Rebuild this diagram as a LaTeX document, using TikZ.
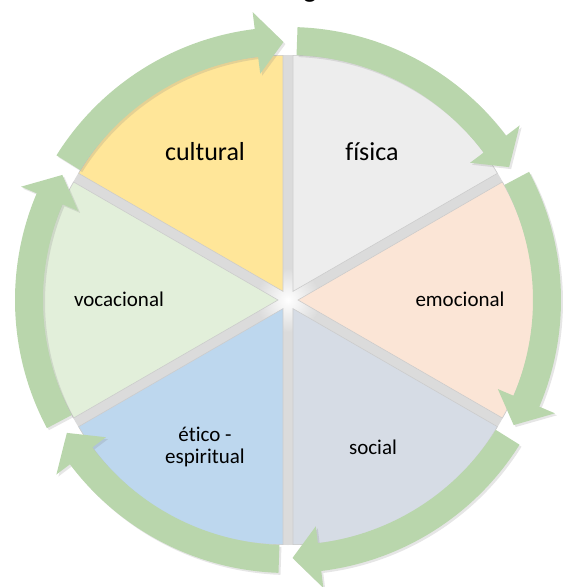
\documentclass[tikz,border=0pt]{standalone}
\usepackage{fontspec}
\setmainfont[Ligatures=NoCommon]{Carlito}
\usetikzlibrary{shadows}

\definecolor{culturalcol}{HTML}{FFE699}
\definecolor{fisicacol}{HTML}{EDEDED}
\definecolor{emocionalcol}{HTML}{FBE5D6}
\definecolor{socialcol}{HTML}{D6DCE5}
\definecolor{eticocol}{HTML}{BDD7EE}
\definecolor{vocacionalcol}{HTML}{E2EFDA}
\definecolor{arrowgreen}{HTML}{B9D6AC}

\begin{document}
\begin{tikzpicture}[
    x=1pt, y=1pt,
    wedge/.style = {draw=gray!40, line width=0.6pt},
    cycle_arrow/.style = {fill=arrowgreen, drop shadow={shadow xshift=2pt, shadow yshift=-2pt, opacity=0.2}},
    big_label/.style = {font=\fontsize{26}{28}\selectfont, text=black},
    small_label/.style = {font=\fontsize{21}{21.5}\selectfont, align=center, text=black}
]
\useasboundingbox (-288,-287) rectangle (275,300);
\clip (-288,-287) rectangle (275,300);

% --- Fondo gris de las separaciones ---
\fill[gray!28] (0,0) circle (245);
\shade[inner color=white, outer color=gray!28] (0,0) circle (32);

% --- Sectores (cada uno desplazado hacia fuera) ---
\filldraw[wedge, fill=culturalcol, shift={(120:10)}] (0,0) -- (90:236) arc[start angle=90, end angle=150, radius=236] -- cycle;
\filldraw[wedge, fill=fisicacol, shift={(60:10)}] (0,0) -- (30:236) arc[start angle=30, end angle=90, radius=236] -- cycle;
\filldraw[wedge, fill=emocionalcol, shift={(0:10)}] (0,0) -- (-30:236) arc[start angle=-30, end angle=30, radius=236] -- cycle;
\filldraw[wedge, fill=socialcol, shift={(-60:10)}] (0,0) -- (-90:236) arc[start angle=-90, end angle=-30, radius=236] -- cycle;
\filldraw[wedge, fill=eticocol, shift={(-120:10)}] (0,0) -- (-150:236) arc[start angle=-150, end angle=-90, radius=236] -- cycle;
\filldraw[wedge, fill=vocacionalcol, shift={(180:10)}] (0,0) -- (150:236) arc[start angle=150, end angle=210, radius=236] -- cycle;

% --- Flechas del ciclo (sentido horario) ---
\fill[cycle_arrow] (148:273) arc[start angle=148, end angle=97, radius=273] -- (97:290) -- (91:258) -- (97:228) -- (97:245) arc[start angle=97, end angle=148, radius=245] -- cycle;
\fill[cycle_arrow] (88:273) arc[start angle=88, end angle=37, radius=273] -- (37:290) -- (31:258) -- (37:228) -- (37:245) arc[start angle=37, end angle=88, radius=245] -- cycle;
\fill[cycle_arrow] (28:273) arc[start angle=28, end angle=-23, radius=273] -- (-23:290) -- (-29:258) -- (-23:228) -- (-23:245) arc[start angle=-23, end angle=28, radius=245] -- cycle;
\fill[cycle_arrow] (-32:273) arc[start angle=-32, end angle=-83, radius=273] -- (-83:290) -- (-89:258) -- (-83:228) -- (-83:245) arc[start angle=-83, end angle=-32, radius=245] -- cycle;
\fill[cycle_arrow] (-92:273) arc[start angle=-92, end angle=-143, radius=273] -- (-143:290) -- (-149:258) -- (-143:228) -- (-143:245) arc[start angle=-143, end angle=-92, radius=245] -- cycle;
\fill[cycle_arrow] (208:273) arc[start angle=208, end angle=157, radius=273] -- (157:290) -- (151:258) -- (157:228) -- (157:245) arc[start angle=157, end angle=208, radius=245] -- cycle;

% --- Etiquetas ---
\node[big_label] (cultural) at (-83,148) {cultural};
\node[big_label] (fisica) at (84,148) {física};
\node[small_label] (emocional) at (172,1) {emocional};
\node[small_label] (social) at (85,-147) {social};
\node[small_label] (etico) at (-83,-147) {ético -\\espiritual};
\node[small_label] (vocacional) at (-169,1) {vocacional};

% resto del título (cortado arriba)
\node[font=\fontsize{28}{30}\selectfont, anchor=base] (titulo) at (22,302) {g};

\end{tikzpicture}
\end{document}
